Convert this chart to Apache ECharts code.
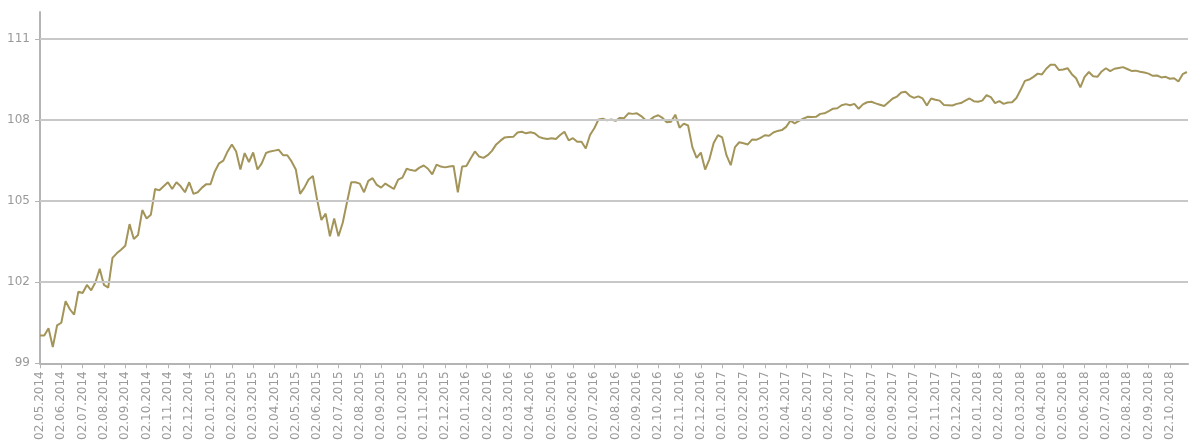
<!DOCTYPE html>
<html>
<head>
<meta charset="utf-8">
<script src="https://cdn.jsdelivr.net/npm/echarts@6/dist/echarts.min.js"></script>
<style>
  html, body { margin: 0; padding: 0; background: #fff; }
  #chart { width: 1190px; height: 443px; }
</style>
</head>
<body>
<div id="chart"></div>
<script>
// monthly tick labels (x axis: months since 02.05.2014)
const tickLabels = [];
for (let y = 2014; y <= 2018; y++) {
  for (let m = 1; m <= 12; m++) {
    if (y === 2014 && m < 5) continue;
    if (y === 2018 && m > 10) continue;
    tickLabels.push("02." + String(m).padStart(2, "0") + "." + y);
  }
}

// index values, one reading every 0.2 month
const step = 0.2;
const values = [
  100.03, 100.03, 100.3, 99.6, 100.4, 100.5, 101.3, 101.0, 100.8, 101.65,
  101.6, 101.9, 101.7, 102.0, 102.5, 101.9, 101.8, 102.9, 103.07, 103.2,
  103.35, 104.15, 103.6, 103.75, 104.67, 104.36, 104.5, 105.45, 105.4, 105.55,
  105.7, 105.45, 105.7, 105.55, 105.33, 105.7, 105.27, 105.33, 105.5, 105.63,
  105.63, 106.1, 106.4, 106.5, 106.84, 107.1, 106.84, 106.17, 106.78, 106.45,
  106.8, 106.17, 106.4, 106.78, 106.84, 106.87, 106.9, 106.7, 106.7, 106.47,
  106.17, 105.27, 105.5, 105.8, 105.93, 105.05, 104.3, 104.54, 103.7, 104.36,
  103.7, 104.2, 104.96, 105.7, 105.7, 105.65, 105.33, 105.75, 105.85, 105.6,
  105.5, 105.65, 105.55, 105.45, 105.8, 105.87, 106.2, 106.15, 106.12, 106.24,
  106.32, 106.2, 105.99, 106.35, 106.28, 106.25, 106.28, 106.3, 105.33, 106.28,
  106.3, 106.58, 106.84, 106.65, 106.6, 106.7, 106.86, 107.1, 107.24, 107.36,
  107.37, 107.38, 107.54, 107.57, 107.51, 107.55, 107.51, 107.38, 107.33, 107.3,
  107.33, 107.3, 107.45, 107.57, 107.25, 107.33, 107.2, 107.2, 106.95, 107.45,
  107.7, 108.02, 108.05, 107.99, 108.02, 107.97, 108.08, 108.07, 108.25, 108.23,
  108.25, 108.15, 108.0, 108.0, 108.12, 108.18, 108.08, 107.92, 107.94, 108.2,
  107.72, 107.87, 107.8, 107.0, 106.6, 106.8, 106.17, 106.55, 107.15, 107.44,
  107.36, 106.7, 106.33, 107.0, 107.18, 107.14, 107.1, 107.28, 107.27, 107.34,
  107.44, 107.42, 107.54, 107.6, 107.63, 107.75, 107.98, 107.88, 107.97, 108.05,
  108.12, 108.11, 108.12, 108.23, 108.25, 108.33, 108.42, 108.44, 108.55, 108.59,
  108.55, 108.6, 108.42, 108.58, 108.66, 108.68, 108.62, 108.57, 108.52, 108.66,
  108.8, 108.87, 109.02, 109.05, 108.9, 108.82, 108.88, 108.8, 108.54, 108.8,
  108.75, 108.72, 108.56, 108.55, 108.54, 108.6, 108.63, 108.72, 108.8, 108.7,
  108.68, 108.72, 108.92, 108.85, 108.63, 108.7, 108.6, 108.65, 108.66, 108.82,
  109.12, 109.45, 109.5, 109.6, 109.72, 109.69, 109.9, 110.05, 110.05, 109.85,
  109.87, 109.92, 109.7, 109.55, 109.21, 109.6, 109.78, 109.62, 109.6, 109.8,
  109.92, 109.81, 109.9, 109.93, 109.96, 109.89, 109.82, 109.83, 109.79, 109.76,
  109.72, 109.64, 109.65, 109.58, 109.6, 109.53, 109.55, 109.43, 109.7, 109.78
];

const yTicks = [99, 102, 105, 108, 111];

let seriesData = [];
for (let i = 0; i < values.length; i++) {
  seriesData.push([i * step, values[i]]);
}
let monthIdx = tickLabels.map(function (_, i) { return i; });

let option = {
  animation: false,
  grid: {
    left: 40,
    right: 2,
    top: 12,
    bottom: 74
  },
  xAxis: {
    type: "value",
    min: 0,
    max: 53.85,
    axisLine: { show: true, lineStyle: { color: "#b4b4b4", width: 2 } },
    axisTick: {
      show: true,
      customValues: monthIdx,
      length: 5,
      lineStyle: { color: "#b4b4b4", width: 1 }
    },
    axisLabel: {
      customValues: monthIdx,
      rotate: 90,
      margin: 8,
      color: "#9a9a9a",
      fontFamily: "DejaVu Sans",
      fontSize: 12,
      formatter: function (v) {
        return tickLabels[Math.round(v)] || "";
      }
    },
    splitLine: { show: false }
  },
  yAxis: {
    type: "value",
    min: 99,
    max: 112,
    axisLine: { show: true, lineStyle: { color: "#b4b4b4", width: 2 } },
    axisTick: {
      show: true,
      customValues: yTicks,
      length: 5,
      lineStyle: { color: "#b4b4b4" }
    },
    axisLabel: {
      customValues: yTicks,
      margin: 10,
      color: "#9a9a9a",
      fontFamily: "DejaVu Sans",
      fontSize: 12
    },
    splitLine: { show: false }
  },
  series: [
    {
      type: "line",
      data: seriesData,
      showSymbol: false,
      lineStyle: { color: "#a3955a", width: 2 },
      markLine: {
        silent: true,
        symbol: "none",
        label: { show: false },
        lineStyle: { color: "#c8c8c8", width: 2, type: "solid" },
        data: yTicks.slice(1).map(function (v) { return { yAxis: v }; })
      },
      z: 3
    }
  ]
};

let myChart = echarts.init(document.getElementById("chart"));
myChart.setOption(option);
window.addEventListener("resize", function () {
  myChart.resize();
});
</script>
</body>
</html>
